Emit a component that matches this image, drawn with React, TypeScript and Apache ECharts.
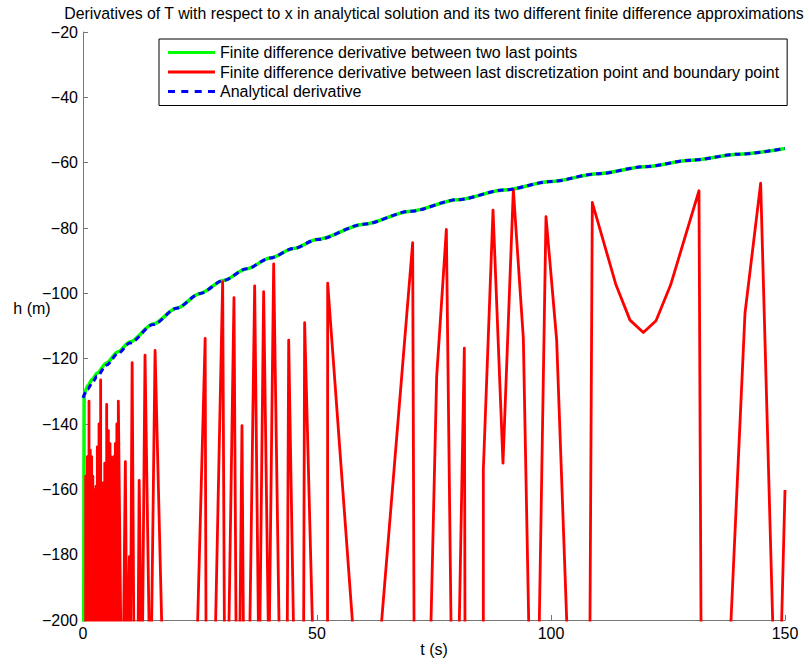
import React, { useEffect, useRef } from "react";
import * as echarts from "echarts";

const titleText =
  "Derivatives of T with respect to x in analytical solution and its two different finite difference approximations";
const xName = "t (s)";
const yName = "h (m)";
const seriesNames = [
  "Finite difference derivative between two last points",
  "Finite difference derivative between last discretization point and boundary point",
  "Analytical derivative",
];

// Analytical derivative (blue dashed)
const analyticalPoints: [number, number][] = [
  [0, -132], [1, -129.4], [2, -127.3], [3, -125.4], [5, -122], [7.5, -118.4],
  [10, -115.2], [15, -109.55], [20, -104.55], [25, -100.05], [30, -96.05],
  [35, -92.45], [40, -89.2], [45, -86.25], [50, -83.55], [60, -78.85],
  [70, -74.85], [80, -71.35], [90, -68.35], [100, -65.75], [110, -63.4],
  [120, -61.25], [130, -59.25], [140, -57.4], [150, -55.65],
];

// FD derivative between two last points (green)
const greenPoints: [number, number][] = [
  [0.03, -400], [0.25, -131], [0.6, -129.5], [1, -128.3], [2, -126.3],
  [3, -124.5], [5, -121.3], [7.5, -117.9], [10, -114.9], [15, -109.4],
  [20, -104.55], [25, -100.05], [30, -96.05], [35, -92.45], [40, -89.2],
  [45, -86.25], [50, -83.55], [60, -78.85], [70, -74.85], [80, -71.35],
  [90, -68.35], [100, -65.75], [110, -63.4], [120, -61.25], [130, -59.25],
  [140, -57.4], [150, -55.65],
];

// FD derivative between last discretization point and boundary point (red)
const redPoints: [number, number][] = [
  [0.0, -3000], [0.57, -156], [0.75, -3000], [0.92, -150], [1.1, -3000],
  [1.28, -133], [1.42, -3000], [1.56, -148], [1.7, -3000], [1.85, -150],
  [1.97, -3000], [2.1, -156], [2.22, -3000], [2.35, -160], [2.56, -3000],
  [2.78, -159], [2.92, -3000], [3.06, -147], [3.24, -3000], [3.42, -140],
  [3.6, -3000], [3.77, -126.5], [4.02, -3000], [4.27, -158], [4.46, -3000],
  [4.65, -152], [4.85, -3000], [5.06, -134], [5.24, -3000], [5.42, -142],
  [5.6, -3000], [5.77, -146], [5.9, -3000], [6.02, -150], [6.15, -3000],
  [6.27, -154], [6.44, -3000], [6.6, -150], [6.75, -3000], [6.91, -146],
  [7.07, -3000], [7.23, -140], [7.39, -3000],
  [7.55, -133], [8.38, -244], [9.05, -151.5], [9.42, -223], [9.9, -180.6],
  [10.03, -233], [10.5, -121.2], [11.3, -306], [12.0, -157.3], [12.6, -224],
  [13.25, -118.9], [14.41, -230], [15.4, -117.5], [20.48, -417], [26.1, -113.8],
  [26.54, -325], [29.84, -96.4], [30.45, -270], [32.26, -101.3], [33.02, -275],
  [33.97, -140.5], [34.73, -297], [36.68, -97.7], [37.64, -223], [38.6, -99.5],
  [39.72, -215], [40.74, -91], [43.22, -329], [43.95, -114.3], [46.79, -357],
  [47.36, -109], [52.2, -378], [52.28, -96.9], [60.51, -258], [70.44, -84.5],
  [71.22, -395], [75.57, -125.5], [77.64, -80.4], [79.33, -285], [81.48, -116.8],
  [85.5, -2500], [85.54, -154.1], [87.61, -74.5], [89.74, -152], [91.95, -68.2],
  [94.09, -113.8], [96.45, -292], [98.93, -76.5], [101.21, -114.3],
  [107.66, -372], [108.83, -72.2], [113.88, -97.4], [116.88, -108.2],
  [119.73, -112], [122.44, -108.4], [125.57, -97.4], [131.62, -68.6],
  [132.65, -383], [141.45, -106.1], [144.8, -66.3], [148.36, -252], [150, -160.2],
];

const xMin = 0;
const xMax = 150;
const xStep = 50;
const yMin = -200;
const yMax = -20;
const yStep = 20;

const FONT = "'Liberation Sans', Arial, Helvetica, sans-serif";
const AXIS_COLOR = "#777";

const SOLID_ICON = "path://M0,0h47v3h-47z";
const DASH_ICON = "path://M0,0h7v3h-7zM13.3,0h7v3h-7zM26.7,0h7v3h-7zM40,0h7v3h-7z";

export default function App() {
  const ref = useRef<HTMLDivElement>(null);

  useEffect(() => {
    if (!ref.current) return;
    const chart = echarts.init(ref.current, undefined, { renderer: "svg" });
    const fmt = (v: number) => (v < 0 ? "\u2212" + Math.abs(v) : String(v));
    chart.setOption({
      animation: false,
      backgroundColor: "#fff",
      grid: { left: 83, right: 24, top: 32, bottom: 45, containLabel: false },
      xAxis: {
        type: "value",
        min: xMin,
        max: xMax,
        interval: xStep,
        axisLine: { show: true, onZero: false, lineStyle: { color: AXIS_COLOR, width: 1 } },
        axisTick: { show: true, inside: true, length: 5, lineStyle: { color: AXIS_COLOR } },
        axisLabel: { color: "#000", fontSize: 16, fontFamily: FONT, margin: 5, formatter: fmt },
        splitLine: { show: false },
      },
      yAxis: {
        type: "value",
        min: yMin,
        max: yMax,
        interval: yStep,
        axisLine: { show: true, onZero: false, lineStyle: { color: AXIS_COLOR, width: 1 } },
        axisTick: { show: true, inside: true, length: 5, lineStyle: { color: AXIS_COLOR } },
        axisLabel: { color: "#000", fontSize: 16, fontFamily: FONT, margin: 5, formatter: fmt },
        splitLine: { show: false },
      },
      legend: {
        orient: "vertical",
        left: 159,
        top: 39,
        itemWidth: 47,
        itemHeight: 3,
        itemGap: 3.5,
        padding: [5.5, 8, 6, 9],
        borderColor: "#000",
        borderWidth: 1,
        backgroundColor: "#fff",
        textStyle: { fontSize: 16, fontFamily: FONT, color: "#000" },
        data: [
          { name: seriesNames[0], icon: SOLID_ICON },
          { name: seriesNames[1], icon: SOLID_ICON },
          { name: seriesNames[2], icon: DASH_ICON },
        ],
      },
      graphic: [
        {
          type: "text",
          x: 434,
          y: 13,
          style: {
            text: titleText,
            fontSize: 15.85,
            fontFamily: FONT,
            fill: "#000",
            textAlign: "center",
            textVerticalAlign: "middle",
          },
        },
        {
          type: "text",
          x: 32,
          y: 308,
          style: {
            text: yName,
            fontSize: 16,
            fontFamily: FONT,
            fill: "#000",
            textAlign: "center",
            textVerticalAlign: "middle",
          },
        },
        {
          type: "text",
          x: 434,
          y: 649,
          style: {
            text: xName,
            fontSize: 16,
            fontFamily: FONT,
            fill: "#000",
            textAlign: "center",
            textVerticalAlign: "middle",
          },
        },
      ],
      series: [
        {
          name: seriesNames[0],
          type: "line",
          data: greenPoints,
          symbol: "none",
          smooth: 0.3,
          smoothMonotone: "x",
          clip: true,
          lineStyle: { color: "#00ff00", width: 3.5 },
          itemStyle: { color: "#00ff00" },
          z: 2,
        },
        {
          name: seriesNames[1],
          type: "line",
          data: redPoints,
          symbol: "none",
          clip: true,
          lineStyle: { color: "#ff0000", width: 2.8, join: "round" },
          itemStyle: { color: "#ff0000" },
          z: 3,
        },
        {
          name: seriesNames[2],
          type: "line",
          data: analyticalPoints,
          symbol: "none",
          smooth: 0.3,
          smoothMonotone: "x",
          clip: true,
          lineStyle: { color: "#0000ff", width: 3, type: [6, 4] },
          itemStyle: { color: "#0000ff" },
          z: 4,
        },
      ],
    });
    return () => chart.dispose();
  }, []);

  return (
    <div
      ref={ref}
      style={{ position: "fixed", left: 0, top: 0, width: 809, height: 665, background: "#fff" }}
    />
  );
}
